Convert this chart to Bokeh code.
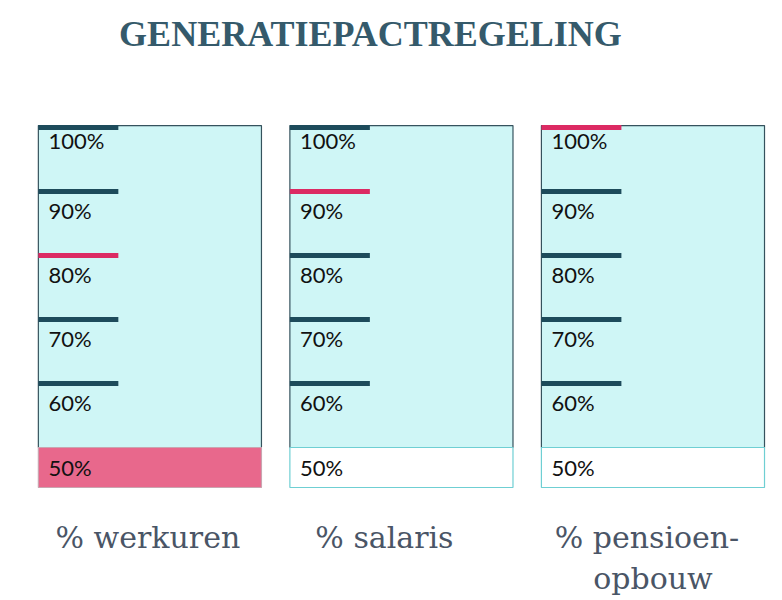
from bokeh.plotting import figure
from bokeh.models import Range1d
from bokeh.core.properties import value
from bokeh.embed import file_html
from bokeh.resources import INLINE

title = "GENERATIEPACTREGELING"
categories = ["% werkuren", "% salaris", "% pensioen-\nopbouw"]
levels = [100, 90, 80, 70, 60]
base_level = 50
level_labels = ["100%", "90%", "80%", "70%", "60%"]
base_label = "50%"
selected = [80, 90, 100]          # highlighted level per column
base_highlight = [True, False, False]

DARK = "#1d4b5b"
PINK = "#dc2a63"
CYAN = "#cff6f6"
BORDER = "#35525d"

# scale: 1 level unit = 6.4 px vertically, column spacing 251.5 px
p = figure(width=782, height=600, output_backend="svg", toolbar_location=None,
           x_range=Range1d(-0.594, 2.515), y_range=Range1d(26.09, 119.84),
           min_border=0)
p.axis.visible = False
p.grid.visible = False
p.outline_line_color = None

n = len(categories)
xs = list(range(n))
half = 0.4435
top = levels[0] + 0.3
base_bottom = base_level - 6.25

# main cyan boxes
p.quad(left=[x - half for x in xs], right=[x + half for x in xs],
       bottom=[base_level] * n, top=[top] * n,
       fill_color=CYAN, line_color=BORDER, line_width=1.2)
# base boxes
p.quad(left=[x - half for x in xs], right=[x + half for x in xs],
       bottom=[base_bottom] * n, top=[base_level] * n,
       fill_color=["#e8688c" if h else "white" for h in base_highlight],
       line_color=["#c9a5b0" if h else "#6fcfd3" for h in base_highlight],
       line_width=1.2)

# level marks
mx0, mx1, my, mc = [], [], [], []
tx, ty, tt = [], [], []
for i, x in enumerate(xs):
    for lv, lab in zip(levels, level_labels):
        mx0.append(x - half)
        mx1.append(x - half + 0.318)
        my.append(lv)
        mc.append(PINK if lv == selected[i] else DARK)
        tx.append(x - half + 0.04)
        ty.append(lv - (2.0 if lv == levels[0] else 3.0))
        tt.append(lab)
    tx.append(x - half + 0.04)
    ty.append((base_level + base_bottom) / 2)
    tt.append(base_label)

p.segment(x0=mx0, x1=mx1, y0=my, y1=my, line_color=mc, line_width=5,
          line_cap="butt")
p.text(x=tx, y=ty, text=tt, text_font=value("Lato"), text_font_size="22px",
       text_color="#111111", text_baseline="middle", text_align="left")

# category labels
cx, cy, ct, co = [], [], [], []
label_shift = [-2, -17, -6]
for i, c in enumerate(categories):
    for j, line in enumerate(c.split("\n")):
        cx.append(xs[i])
        cy.append(35.9 - j * 6.4)
        ct.append(line)
        co.append(label_shift[i] if j == 0 else 0)
p.text(x=cx, y=cy, text=ct, x_offset=co, text_font=value("DejaVu Serif"),
       text_font_size="30px", text_color="#4a5566",
       text_baseline="middle", text_align="center")

# title
p.text(x=[0.877], y=[114.6], text=[title], text_font=value("Liberation Serif"),
       text_font_style="bold", text_font_size="36px", text_color="#355a6b",
       text_baseline="middle", text_align="center")

open("out.html", "w").write(file_html(p, INLINE))
